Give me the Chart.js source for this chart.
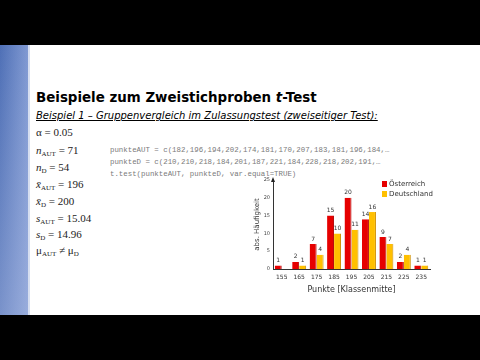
<!DOCTYPE html>
<html><head><meta charset="utf-8">
<script src="https://cdn.jsdelivr.net/npm/chart.js@4/dist/chart.umd.min.js"></script>
<style>
html,body{margin:0;padding:0;width:480px;height:360px;overflow:hidden;background:#000;}
#slide{position:absolute;left:0;top:45px;width:480px;height:270px;background:#fff;}
#bar{position:absolute;left:0;top:0;width:28px;height:270px;background:linear-gradient(to right,#4f70b6,#8099d2);}
#bar2{position:absolute;left:0;top:0;width:28px;height:270px;background:linear-gradient(to bottom,rgba(255,255,255,0),rgba(200,210,240,0.35));}
#edge{position:absolute;left:28px;top:0;width:2px;height:270px;background:#d6def0;}
.t{position:absolute;white-space:nowrap;}
#title{left:36px;top:45px;font:bold 13.4px "DejaVu Sans",sans-serif;color:#000;}
#sub{left:36px;top:65px;font:italic 10px "DejaVu Sans",sans-serif;color:#000;text-decoration:underline;}
.m{left:36px;font:11px "Liberation Serif",serif;color:#222;}
.m sub{font-size:7px;vertical-align:-2px;}
.code{left:110px;font:7.4px "Liberation Mono",monospace;color:#7a7a7a;}
#cv{position:absolute;left:250px;top:120px;}
</style></head><body>
<div id="slide">
<div id="bar"></div><div id="bar2"></div><div id="edge"></div>
<div class="t" id="title">Beispiele zum Zweistichproben <i>t</i>-Test</div>
<div class="t" id="sub">Beispiel 1 – Gruppenvergleich im Zulassungstest (zweiseitiger Test):</div>
<div class="t m" style="top:81px">α = 0.05</div>
<div class="t m" style="top:99px"><i>n</i><sub>AUT</sub> = 71</div>
<div class="t m" style="top:116px"><i>n</i><sub>D</sub> = 54</div>
<div class="t m" style="top:133px"><i>x̄</i><sub>AUT</sub> = 196</div>
<div class="t m" style="top:150px"><i>x̄</i><sub>D</sub> = 200</div>
<div class="t m" style="top:167px"><i>s</i><sub>AUT</sub> = 15.04</div>
<div class="t m" style="top:183px"><i>s</i><sub>D</sub> = 14.96</div>
<div class="t m" style="top:199px">μ<sub>AUT</sub> ≠ μ<sub>D</sub></div>
<div class="t code" style="top:101px">punkteAUT = c(182,196,194,202,174,181,170,207,183,181,196,184,…</div>
<div class="t code" style="top:113px">punkteD = c(210,210,218,184,201,187,221,184,228,218,202,191,…</div>
<div class="t code" style="top:125px">t.test(punkteAUT, punkteD, var.equal=TRUE)</div>
<canvas id="cv" width="210" height="130"></canvas>
</div>
<script>
const categories = ["155","165","175","185","195","205","215","225","235"];
const oesterreich = [1,2,7,15,20,14,9,2,1];
const deutschland = [0,1,4,10,11,16,7,4,1];
const yTicks = [0,5,10,15,20,25];

const labelsPlugin = {
  id:'labels',
  afterDatasetsDraw(chart){
    const ctx = chart.ctx;
    ctx.save();
    ctx.font = '6px "DejaVu Sans", sans-serif';
    ctx.fillStyle = '#333';
    ctx.textAlign = 'center';
    ctx.textBaseline = 'bottom';
    chart.data.datasets.forEach((ds,i)=>{
      chart.getDatasetMeta(i).data.forEach((el,j)=>{
        const v = ds.data[j];
        if (v > 0) ctx.fillText(String(v), el.x, el.y - 2);
      });
    });
    const a = chart.chartArea;
    ctx.fillStyle = '#222';
    ctx.beginPath();
    ctx.moveTo(a.left, a.top - 3);
    ctx.lineTo(a.left - 2, a.top + 2);
    ctx.lineTo(a.left + 2, a.top + 2);
    ctx.closePath();
    ctx.fill();
    ctx.font = '7px "DejaVu Sans", sans-serif';
    ctx.textAlign = 'left';
    ctx.textBaseline = 'middle';
    chart.data.datasets.forEach((ds,i)=>{
      const x = a.right - 48, y = a.top + 4 + i*10;
      ctx.fillStyle = ds.backgroundColor;
      ctx.fillRect(x, y - 3, 5, 6);
      ctx.fillStyle = '#333';
      ctx.fillText(ds.label, x + 7, y);
    });
    ctx.restore();
  }
};

new Chart(document.getElementById('cv'), {
  type:'bar',
  data:{
    labels:categories,
    datasets:[
      {label:'Österreich', data:oesterreich, backgroundColor:'#e60000', borderColor:'#b00000', borderWidth:{right:1,top:0,left:0,bottom:0}},
      {label:'Deutschland', data:deutschland, backgroundColor:'#ffc000', borderColor:'#d09000', borderWidth:{right:1,top:0,left:0,bottom:0}}
    ]
  },
  options:{
    responsive:false, animation:false,
    layout:{padding:{top:15,right:30,left:0,bottom:0}},
    plugins:{legend:{display:false}, tooltip:{enabled:false}},
    datasets:{bar:{categoryPercentage:0.8, barPercentage:1}},
    scales:{
      x:{
        grid:{display:false, drawTicks:false},
        border:{color:'#333', width:1},
        ticks:{font:{size:6, family:'DejaVu Sans'}, color:'#333', padding:5, maxRotation:0},
        title:{display:true, text:'Punkte [Klassenmitte]', font:{size:8, family:'DejaVu Sans'}, color:'#333', padding:{top:1,bottom:0}},
        afterFit(s){ s.height = 26; }
      },
      y:{
        min:0, max:25,
        afterBuildTicks(s){ s.ticks = yTicks.map(v=>({value:v})); },
        grid:{display:false, drawTicks:false},
        border:{color:'#333', width:1},
        ticks:{font:{size:5, family:'DejaVu Sans'}, color:'#444', padding:3},
        title:{display:true, text:'abs. Häufigkeit', font:{size:7, family:'DejaVu Sans'}, color:'#333', padding:{top:3,bottom:0}},
        afterFit(s){ s.width = 23; }
      }
    }
  },
  plugins:[labelsPlugin]
});
</script>
</body></html>
